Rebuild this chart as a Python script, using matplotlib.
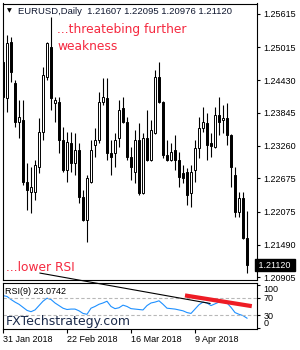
import matplotlib
matplotlib.use('Agg')
import matplotlib.pyplot as plt
import numpy as np

# EURUSD daily candles, 31 Jan 2018 .. 26 Apr 2018
opens = [1.2476, 1.2411, 1.2511, 1.2438, 1.2368, 1.2372, 1.2261, 1.2243, 1.2243, 1.2288,
         1.2350, 1.2449, 1.2502, 1.2402, 1.2404, 1.2336, 1.2282, 1.2331, 1.2295, 1.2318,
         1.2234, 1.2193, 1.2261, 1.2327, 1.2336, 1.2404, 1.2411, 1.2313, 1.2313, 1.2340,
         1.2393, 1.2368, 1.2306, 1.2279, 1.2336, 1.2241, 1.2340, 1.2300, 1.2349, 1.2449,
         1.2404, 1.2309, 1.2300, 1.2318, 1.2300, 1.2277, 1.2279, 1.2241, 1.2282, 1.2322,
         1.2358, 1.2366, 1.2331, 1.2324, 1.2381, 1.2372, 1.2375, 1.2345, 1.2273, 1.2207,
         1.2232, 1.21607]
highs = [1.2479, 1.2524, 1.2520, 1.2443, 1.2408, 1.2408, 1.2295, 1.2288, 1.2300, 1.2375,
         1.2467, 1.2511, 1.2556, 1.2413, 1.2413, 1.2359, 1.2350, 1.2350, 1.2349, 1.2331,
         1.2247, 1.2273, 1.2336, 1.2358, 1.2422, 1.2447, 1.2447, 1.2336, 1.2349, 1.2408,
         1.2413, 1.2377, 1.2324, 1.2354, 1.2366, 1.2349, 1.2390, 1.2372, 1.2461, 1.2476,
         1.2406, 1.2336, 1.2331, 1.2345, 1.2315, 1.2291, 1.2286, 1.2291, 1.2336, 1.2377,
         1.2395, 1.2384, 1.2349, 1.2395, 1.2413, 1.2399, 1.2402, 1.2346, 1.2288, 1.2243,
         1.2243, 1.22095]
lows = [1.2386, 1.2386, 1.2440, 1.2359, 1.2340, 1.2256, 1.2211, 1.2206, 1.2229, 1.2277,
        1.2336, 1.2443, 1.2390, 1.2368, 1.2313, 1.2279, 1.2261, 1.2279, 1.2273, 1.2223,
        1.2191, 1.2154, 1.2259, 1.2306, 1.2331, 1.2399, 1.2300, 1.2273, 1.2288, 1.2324,
        1.2366, 1.2300, 1.2264, 1.2259, 1.2238, 1.2239, 1.2298, 1.2298, 1.2347, 1.2402,
        1.2304, 1.2298, 1.2298, 1.2282, 1.2252, 1.2259, 1.2220, 1.2216, 1.2261, 1.2304,
        1.2350, 1.2300, 1.2306, 1.2322, 1.2345, 1.2349, 1.2327, 1.2252, 1.2198, 1.2198,
        1.2159, 1.20976]
closes = [1.2413, 1.2510, 1.2458, 1.2368, 1.2377, 1.2261, 1.2247, 1.2252, 1.2291, 1.2350,
          1.2452, 1.2510, 1.2411, 1.2408, 1.2336, 1.2282, 1.2332, 1.2295, 1.2318, 1.2234,
          1.2193, 1.2268, 1.2318, 1.2336, 1.2404, 1.2413, 1.2313, 1.2306, 1.2336, 1.2390,
          1.2368, 1.2306, 1.2288, 1.2336, 1.2241, 1.2340, 1.2300, 1.2354, 1.2449, 1.2404,
          1.2309, 1.2300, 1.2315, 1.2300, 1.2270, 1.2268, 1.2238, 1.2279, 1.2322, 1.2358,
          1.2368, 1.2327, 1.2326, 1.2381, 1.2368, 1.2375, 1.2345, 1.2288, 1.2207, 1.2232,
          1.2161, 1.21120]

rsi = [75, 73, 66, 60, 55, 48, 41, 38, 42, 52, 62, 69, 66, 58, 52, 46, 43, 44, 44, 40,
       34, 32, 46, 50, 55, 58, 62, 50, 45, 47, 53, 50, 45, 44, 43, 42, 52, 58, 60, 63,
       55, 46, 45, 44, 42, 40, 36, 34, 44, 54, 60, 58, 52, 56, 60, 61, 58, 48, 36, 32,
       29, 23.0742]

price_ticks = [1.25615, 1.25015, 1.24430, 1.23845, 1.23260, 1.22675, 1.22075, 1.21490, 1.20905]
date_ticks = [0, 16, 32, 48]
date_labels = ['31 Jan 2018', '22 Feb 2018', '16 Mar 2018', '9 Apr 2018']

# analyst trend lines (bar index, RSI value)
red_line_x = [45.5, 62.2]
red_line_y = [75.3, 50.7]
black_line_x = [9.25, 51.75]
black_line_y = [126.6, 56.9]

W, H = 300, 350
def box(l, t, r, b):
    return [l / W, 1 - b / H, (r - l) / W, (b - t) / H]

fig = plt.figure(figsize=(3, 3.5), dpi=100)
ax = fig.add_axes(box(2.5, 3.5, 256.5, 280))
rax = fig.add_axes(box(2.5, 282.5, 256.5, 328.5))

small = dict(family='Liberation Sans', size=6.5)

x = np.arange(len(opens))
o = np.array(opens); c = np.array(closes)
up = c >= o
ax.vlines(x, lows, highs, color='black', lw=0.8, zorder=2)
ax.bar(x, np.abs(c - o), bottom=np.minimum(o, c), width=0.6,
       color=np.where(up, 'white', 'black'), edgecolor='black', lw=0.7, zorder=3)

ax.set_xlim(-0.125, 63.375)
ax.set_ylim(1.20856, 1.25802)
ax.yaxis.tick_right()
ax.set_yticks(price_ticks)
ax.set_yticklabels(['%.5f' % p for p in price_ticks], **small)
ax.tick_params(axis='y', length=2, width=0.8, pad=3)
ax.set_xticks([])
for s in ax.spines.values():
    s.set_linewidth(0.8)

ax.text(1.0, closes[-1], ' %.5f ' % closes[-1], transform=ax.get_yaxis_transform(),
        color='white', va='center', ha='left', **small,
        bbox=dict(boxstyle='square,pad=0.15', fc='black', ec='black'))

fig.text(7 / W, 1 - 11 / H, '\u25bc', fontsize=4.5, va='center', ha='left')
fig.text(18 / W, 1 - 11 / H, 'EURUSD,Daily  1.21607 1.22095 1.20976 1.21120',
         va='center', ha='left', color='#101830', family='Liberation Sans', size=6.8)

red = '#f5283f'
fig.text(57 / W, 1 - 33.5 / H, '...threatebing further',
         color=red, fontsize=8.8, va='baseline', ha='left')
fig.text(57 / W, 1 - 50.5 / H, 'weakness',
         color=red, fontsize=8.8, va='baseline', ha='left')
fig.text(6 / W, 1 - 271 / H, '...lower RSI',
         color=red, fontsize=8.8, va='baseline', ha='left')

# RSI panel
rax.plot(x, rsi, color='#1e90ff', lw=0.8)
rax.axhline(70, color='#b8b8b8', lw=0.8, ls=(0, (3, 2)))
rax.axhline(30, color='#b8b8b8', lw=0.8, ls=(0, (3, 2)))
rax.plot(red_line_x, red_line_y, color='#ee1c25', lw=3, solid_capstyle='butt')
rax.plot(black_line_x, black_line_y, color='black', lw=0.8, clip_on=False, zorder=5)
rax.set_xlim(-0.125, 63.375)
rax.set_ylim(-0.6, 105)
rax.yaxis.tick_right()
rax.set_yticks([100, 70, 30, 0])
labs = rax.set_yticklabels(['100', '70', '30', '0'], **small)
labs[0].set_va('top')
labs[3].set_va('bottom')
rax.tick_params(axis='y', length=2, width=0.8, pad=3)
rax.set_xticks(date_ticks)
rax.set_xticklabels(date_labels, ha='left', **small)
rax.tick_params(axis='x', length=3, width=0.8, pad=2)
for s in rax.spines.values():
    s.set_linewidth(0.8)

fig.text(5 / W, 1 - 292 / H, 'RSI(9) 23.0742',
         va='center', ha='left', color='black', **small)
fig.text(6 / W, 1 - 325.5 / H, 'FXTechstrategy.com',
         va='baseline', ha='left', color='#1b2a4a', fontsize=9)

fig.savefig('out.png', dpi=100)
